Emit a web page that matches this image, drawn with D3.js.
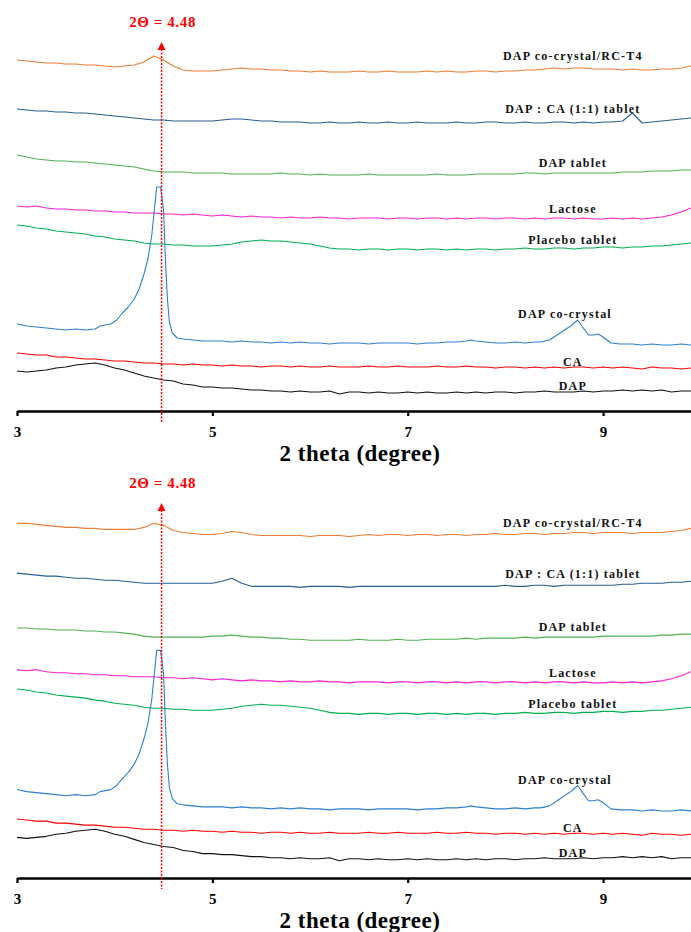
<!DOCTYPE html>
<html>
<head>
<meta charset="utf-8">
<script src="https://cdn.jsdelivr.net/npm/d3@7/dist/d3.min.js"></script>
<style>
  html, body { margin: 0; padding: 0; background: #fff; }
  svg { display: block; }
  text { font-family: "Liberation Serif", "Times New Roman", serif; font-weight: bold; }
</style>
</head>
<body>
<svg id="chart" width="691" height="932"></svg>
<script>
// 2θ grid (degrees) shared by the evenly sampled patterns
const twoTheta = d3.range(70).map(i => +(3 + i * 0.1).toFixed(1));

// Intensities (a.u., stacked with vertical offsets)
const dapI = [40,39,40,41,43,44,46,47,48,46,43,41,38,35,33,31,30,27,26,24,24,23,23,22,21,21,20,20,19,20,19,19,20,17,19,19,18,19,18,18,19,18,19,18,18,19,18,19,18,19,19,18,19,19,20,19,19,19,20,19,20,20,21,20,21,20,21,19,20,20];
const caI = [58,57,56,56,54,54,53,52,52,51,50,50,49,48,48,47,47,46,47,46,46,45,46,45,45,44,45,45,44,45,44,44,45,44,44,44,45,44,44,45,44,44,44,45,44,44,45,44,44,43,44,44,43,44,43,44,43,44,44,43,44,43,44,43,42,44,43,43,42,43];
const lactoseI = [205,204,205,203,202,202,201,201,200,200,199,199,198,198,198,197,197,196,197,196,195,196,195,194,195,194,194,193,194,193,193,194,193,193,192,193,193,193,192,193,193,192,193,193,192,193,192,193,193,192,193,193,192,193,192,193,193,192,193,192,192,193,192,193,192,193,194,196,199,203];
const placeboI = [186,185,183,182,180,179,178,177,175,174,172,171,170,168,167,167,166,166,165,165,165,166,167,169,170,171,170,170,169,168,167,165,163,162,162,161,162,162,161,162,162,161,162,162,161,162,161,162,162,161,162,162,163,162,162,163,163,162,163,163,164,164,163,164,164,165,165,166,167,168];

// DAP co-crystal: denser sampling around its reflections
const cocrystalTheta = [3.0,3.1,3.2,3.3,3.4,3.5,3.6,3.7,3.8,3.85,3.9,3.96,4.02,4.08,4.14,4.2,4.25,4.3,4.34,4.38,4.41,4.43,4.47,4.5,4.52,4.54,4.56,4.59,4.64,4.7,4.8,4.9,5.0,5.1,5.2,5.3,5.4,5.5,5.6,5.7,5.8,5.9,6.0,6.1,6.2,6.3,6.4,6.5,6.6,6.7,6.8,6.9,7.0,7.1,7.2,7.3,7.4,7.5,7.6,7.65,7.7,7.8,7.9,8.0,8.1,8.2,8.3,8.36,8.45,8.56,8.62,8.67,8.74,8.79,8.85,8.9,8.95,9.0,9.08,9.18,9.3,9.4,9.5,9.6,9.7,9.8,9.9];
const cocrystalI = [87,85,84,83,82,81,82,81,82,85,86,87,91,98,104,112,122,137,152,176,205,224,224,201,150,112,89,78,73,72,71,70,70,70,69,70,69,69,68,69,68,69,68,68,67,68,68,68,67,68,68,68,68,67,68,68,69,69,70,71,70,69,68,68,69,68,69,69,71,78,82,85,91,84,76,76,77,74,68,67,67,66,67,66,66,67,66];

// Upper plot: tablets and the RC-T4 sample
const rcT4I_A = [351,350,349,348,348,347,347,346,346,345,344,345,346,349,355,351,345,341,340,340,340,341,342,343,342,342,341,341,340,340,339,340,339,339,339,340,339,339,340,339,339,339,340,339,340,339,339,340,340,339,340,340,341,341,342,343,342,343,343,342,342,342,341,342,341,341,342,342,343,345];
const dapCaTabletI_A = [302,301,300,300,299,299,298,298,297,296,295,294,293,292,291,291,290,290,290,290,290,291,292,292,291,290,290,289,289,289,288,288,289,288,288,289,288,288,289,288,288,289,288,288,288,289,288,288,289,289,288,288,289,288,288,289,289,288,289,288,289,289,290,298,288,289,290,291,292,293];
const dapTabletI_A = [256,254,252,251,250,250,249,249,248,247,246,245,244,242,240,239,239,239,238,238,238,238,237,237,237,237,237,238,237,237,236,237,236,236,236,236,237,236,236,236,236,236,236,237,236,236,236,237,237,237,237,237,238,238,237,238,238,238,238,238,238,238,239,239,239,240,240,240,241,241];

// Lower plot: tablets and the RC-T4 sample
const rcT4I_B = [349,349,348,347,346,345,345,344,344,343,343,343,343,345,349,347,342,340,339,338,338,339,341,340,338,337,337,337,337,337,336,337,337,337,336,337,338,337,338,338,337,338,338,337,338,338,337,338,338,339,338,338,339,339,338,339,339,340,340,339,340,340,340,339,340,340,340,341,342,344];
const dapCaTabletI_B = [300,299,298,297,297,296,295,295,294,293,293,292,291,290,290,290,290,290,290,290,290,292,295,290,287,287,287,287,287,286,287,287,287,287,286,287,287,287,287,287,287,287,287,287,287,287,287,287,287,287,288,287,287,288,288,287,288,288,288,288,288,288,289,289,290,290,290,291,291,292];
const dapTabletI_B = [246,246,245,245,244,244,244,243,243,242,242,241,240,238,237,237,237,237,237,237,238,238,239,238,237,237,236,236,235,235,234,234,234,234,234,235,234,234,234,235,234,234,235,235,235,235,236,235,236,236,236,236,237,236,237,237,237,237,237,237,238,238,238,238,238,238,239,239,240,240];

const markerTheta = 4.48;
const tickValues = [3, 5, 7, 9];

const labelX = 8.69;
const sharedSeries = [
  {name: "Lactose",        theta: twoTheta,       values: lactoseI,   color: "#FF1ECF", labelY: 202},
  {name: "Placebo tablet", theta: twoTheta,       values: placeboI,   color: "#00B050", labelY: 171},
  {name: "DAP co-crystal", theta: cocrystalTheta, values: cocrystalI, color: "#2C80D2", labelY: 97, labelX: 8.61},
  {name: "CA",             theta: twoTheta,       values: caI,        color: "#FF0000", labelY: 49},
  {name: "DAP",            theta: twoTheta,       values: dapI,       color: "#111111", labelY: 25}
];

const panels = [
  {top: 42, axisY: 411, markerBottom: 423, titleY: 461, topSeries: [
    {name: "DAP co-crystal/RC-T4",  theta: twoTheta, values: rcT4I_A,        color: "#ED7D31", labelY: 355},
    {name: "DAP : CA (1:1) tablet", theta: twoTheta, values: dapCaTabletI_A, color: "#255E91", labelY: 302},
    {name: "DAP tablet",            theta: twoTheta, values: dapTabletI_A,   color: "#4FB34F", labelY: 248}
  ]},
  {top: 503, axisY: 878, markerBottom: 889, titleY: 928, topSeries: [
    {name: "DAP co-crystal/RC-T4",  theta: twoTheta, values: rcT4I_B,        color: "#ED7D31", labelY: 350},
    {name: "DAP : CA (1:1) tablet", theta: twoTheta, values: dapCaTabletI_B, color: "#255E91", labelY: 299},
    {name: "DAP tablet",            theta: twoTheta, values: dapTabletI_B,   color: "#4FB34F", labelY: 247}
  ]}
];

const svg = d3.select("#chart");
const x = d3.scaleLinear().domain([3, 9.9]).range([17, 691]);

panels.forEach(p => {
  const y = d3.scaleLinear().domain([0, 369]).range([p.axisY, p.top]);
  const g = svg.append("g");
  const series = p.topSeries.concat(sharedSeries);

  const line = d3.line().x(d => x(d[0])).y(d => y(d[1]));

  g.selectAll("path.trace").data(series).join("path")
    .attr("class", "trace")
    .attr("fill", "none")
    .attr("stroke", d => d.color)
    .attr("stroke-width", 1.1)
    .attr("stroke-linejoin", "round")
    .attr("d", d => line(d.theta.map((t, i) => [t, d.values[i]])));

  g.selectAll("text.label").data(series).join("text")
    .attr("class", "label")
    .attr("x", d => x(d.labelX || labelX))
    .attr("y", d => y(d.labelY))
    .attr("dy", "0.35em")
    .attr("text-anchor", "middle")
    .attr("font-size", 12)
    .attr("letter-spacing", 1.2)
    .attr("fill", "#111")
    .text(d => d.name);

  // x axis
  const axis = g.append("g")
    .attr("transform", `translate(0,${p.axisY})`)
    .call(d3.axisBottom(x).tickValues(tickValues).tickFormat(d3.format("d")).tickSize(5).tickSizeOuter(0));
  axis.select(".domain").attr("stroke", "#000").attr("stroke-width", 2.6);
  axis.selectAll(".tick line").attr("stroke", "#000").attr("stroke-width", 2.2);
  axis.selectAll(".tick text")
    .attr("font-family", "Liberation Serif, serif")
    .attr("font-weight", "bold")
    .attr("font-size", 15)
    .attr("fill", "#000")
    .attr("y", 15);

  g.append("text")
    .attr("x", 360).attr("y", p.titleY)
    .attr("text-anchor", "middle")
    .attr("font-size", 23)
    .attr("letter-spacing", 0.5)
    .attr("fill", "#000")
    .text("2 theta (degree)");

  // peak marker
  const mx = x(markerTheta);
  g.append("line")
    .attr("x1", mx).attr("x2", mx)
    .attr("y1", p.top + 7).attr("y2", p.markerBottom)
    .attr("stroke", "#FF0000")
    .attr("stroke-width", 1.5)
    .attr("stroke-dasharray", "2,1.5");
  g.append("path")
    .attr("d", `M${mx},${p.top} L${mx - 4},${p.top + 8} L${mx + 4},${p.top + 8} Z`)
    .attr("fill", "#FF0000");
  g.append("text")
    .attr("x", mx + 1).attr("y", p.top - 15)
    .attr("text-anchor", "middle")
    .attr("font-size", 15)
    .attr("letter-spacing", 0.6)
    .attr("fill", "#FF0000")
    .text(`2\u0398 = ${markerTheta}`);
});
</script>
</body>
</html>
